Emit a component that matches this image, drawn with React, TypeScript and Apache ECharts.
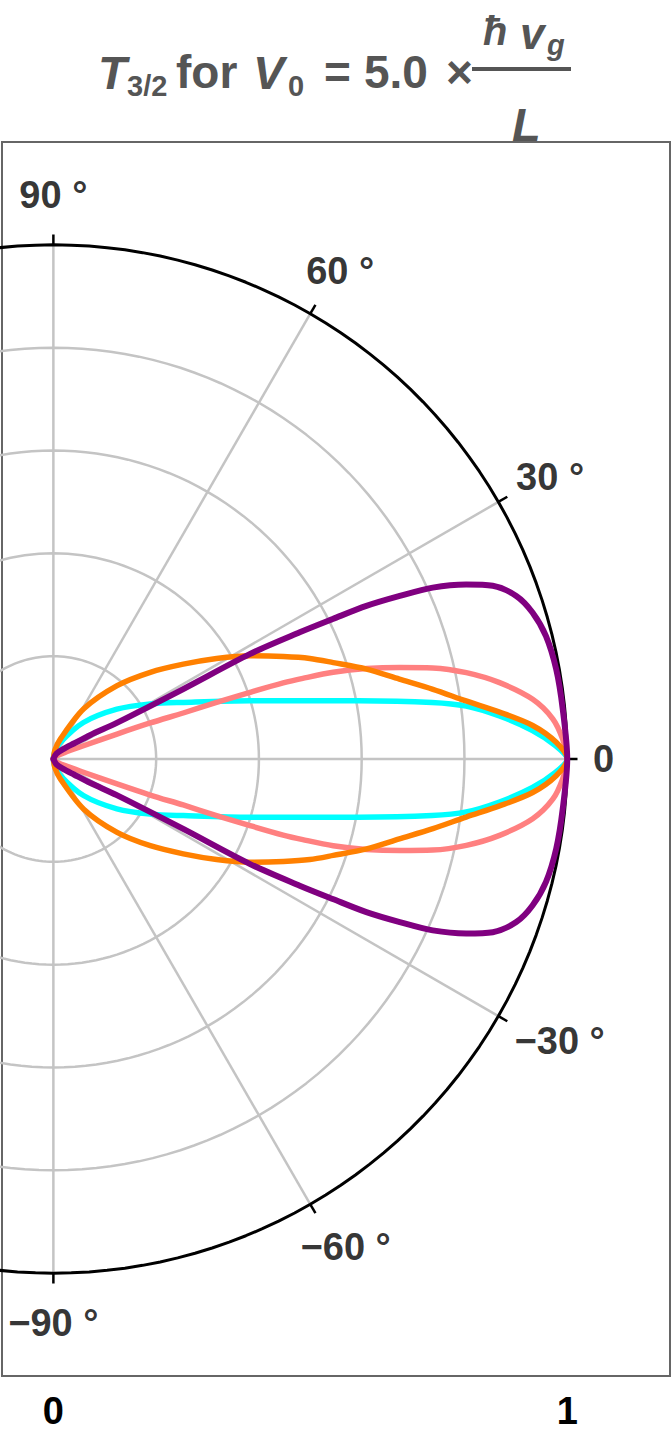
import React, { useEffect, useRef } from "react";
import * as echarts from "echarts";

// ---------- data (angles in degrees, radii in units of the outer circle) ----------
const ORANGE_THETA = [-90, -80, -70.7, -58.8, -49, -41.8, -36.1, -31.6, -27.7, -24, -21.4, -19, -16, -13, -10.4, -8, -6, -4, -1.9, 0, 1.9, 4, 6, 8, 10.4, 13, 16, 19, 21.4, 24, 27.7, 31.6, 36.1, 41.8, 49, 58.8, 70.7, 80, 90];
const ORANGE_R = [0, 0.018, 0.041, 0.114, 0.189, 0.253, 0.313, 0.373, 0.432, 0.49, 0.536, 0.576, 0.634, 0.691, 0.751, 0.811, 0.873, 0.935, 0.979, 1.0, 0.979, 0.935, 0.873, 0.811, 0.751, 0.691, 0.634, 0.576, 0.536, 0.49, 0.432, 0.373, 0.313, 0.253, 0.189, 0.114, 0.041, 0.018, 0];

const CYAN_THETA = [-90, -80, -67, -50.5, -38.1, -29.6, -23.5, -16.5, -13.1, -10.8, -8.5, -7.3, -5.5, -3.4, -1.5, 0, 1.5, 3.4, 5.5, 7.3, 8.5, 10.8, 13.1, 16.5, 23.5, 29.6, 38.1, 50.5, 67, 80, 90];
const CYAN_R = [0, 0.012, 0.035, 0.092, 0.157, 0.217, 0.276, 0.399, 0.5, 0.605, 0.745, 0.81, 0.872, 0.934, 0.978, 1.0, 0.978, 0.934, 0.872, 0.81, 0.745, 0.605, 0.5, 0.399, 0.276, 0.217, 0.157, 0.092, 0.035, 0.012, 0];

const SALMON_THETA = [-90, -45, -30, -23.7, -21.4, -20.4, -19.5, -19.1, -18.7, -18.3, -17.9, -17.2, -16.1, -14.8, -13.5, -11.8, -9.7, -7.1, -4.6, -2.2, 0, 2.2, 4.6, 7.1, 9.7, 11.8, 13.5, 14.8, 16.1, 17.2, 17.9, 18.3, 18.7, 19.1, 19.5, 20.4, 21.4, 23.7, 30, 45, 90];
const SALMON_R = [0, 0.008, 0.025, 0.064, 0.133, 0.201, 0.268, 0.336, 0.404, 0.471, 0.51, 0.57, 0.634, 0.697, 0.759, 0.821, 0.881, 0.94, 0.975, 0.992, 1.0, 0.992, 0.975, 0.94, 0.881, 0.821, 0.759, 0.697, 0.634, 0.57, 0.51, 0.471, 0.404, 0.336, 0.268, 0.201, 0.133, 0.064, 0.025, 0.008, 0];

const PURPLE_THETA = [-90, -60, -45, -37, -33, -29.7, -28.3, -28.1, -27.2, -26.6, -26.05, -25.2, -24.3, -22.9, -21.5, -19.4, -17, -14, -10.1, -5.6, 0, 5.6, 10.1, 14, 17, 19.4, 21.5, 22.9, 24.3, 25.2, 26.05, 26.6, 27.2, 28.1, 28.3, 29.7, 33, 37, 45, 60, 90];
const PURPLE_R = [0, 0.012, 0.027, 0.05, 0.085, 0.142, 0.287, 0.433, 0.539, 0.608, 0.678, 0.745, 0.81, 0.872, 0.919, 0.955, 0.975, 0.988, 0.994, 0.996, 1.0, 0.996, 0.994, 0.988, 0.975, 0.955, 0.919, 0.872, 0.81, 0.745, 0.678, 0.608, 0.539, 0.433, 0.287, 0.142, 0.085, 0.05, 0.027, 0.012, 0];

const GRID_RADII = [0.2, 0.4, 0.6, 0.8];
const OUTER_RADIUS = 1;
const SPOKE_ANGLES = [-90, -60, -30, 0, 30, 60, 90];
const ANGLE_TICKS = [90, 60, 30, 0, -30, -60, -90];
const ANGLE_TICK_LABELS = ["90 °", "60 °", "30 °", "0", "−30 °", "−60 °", "−90 °"];
const X_TICKS = [0, 1];
const X_TICK_LABELS = ["0", "1"];

// ---------- helpers ----------
const FONT = '"Liberation Sans", Arial, Helvetica, sans-serif';
const rad = (d: number) => (d * Math.PI) / 180;
const toXY = (thetas: number[], rs: number[]) =>
  thetas.map((t, i) => [rs[i] * Math.cos(rad(t)), rs[i] * Math.sin(rad(t))]);
const circle = (r: number) => {
  const pts: number[][] = [];
  for (let a = 0; a <= 360; a += 2) pts.push([r * Math.cos(rad(a)), r * Math.sin(rad(a))]);
  return pts;
};

function measure(text: string, size: number) {
  const c = document.createElement("canvas").getContext("2d");
  if (!c) return text.length * size * 0.5;
  c.font = `bold ${size}px ${FONT}`;
  return c.measureText(text).width;
}

export default function App() {
  const ref = useRef<HTMLDivElement>(null);

  useEffect(() => {
    if (!ref.current) return;
    const chart = echarts.init(ref.current, undefined, { renderer: "svg" });

    const gridGray = "#c4c4c4";
    const series: any[] = [];

    GRID_RADII.forEach((r) =>
      series.push({
        type: "line", data: circle(r), symbol: "none", silent: true, clip: true,
        lineStyle: { color: gridGray, width: 2.5 },
      })
    );
    SPOKE_ANGLES.forEach((a) =>
      series.push({
        type: "line", data: toXY([a, a], [0, OUTER_RADIUS]), symbol: "none", silent: true,
        lineStyle: { color: gridGray, width: 2.5 },
      })
    );
    series.push({
      type: "line", data: circle(OUTER_RADIUS), symbol: "none", silent: true, clip: true,
      lineStyle: { color: "#000", width: 3 },
    });
    ANGLE_TICKS.forEach((a) =>
      series.push({
        type: "line", data: toXY([a, a], [OUTER_RADIUS, OUTER_RADIUS * 1.02]), symbol: "none", silent: true,
        lineStyle: { color: "#000", width: 2.5 },
      })
    );

    const curves = [
      { t: CYAN_THETA, r: CYAN_R, c: "#00ffff", w: 5.5 },
      { t: SALMON_THETA, r: SALMON_R, c: "#ff8080", w: 5.5 },
      { t: ORANGE_THETA, r: ORANGE_R, c: "#ff8000", w: 5.5 },
      { t: PURPLE_THETA, r: PURPLE_R, c: "#800080", w: 6 },
    ];
    curves.forEach((cv) =>
      series.push({
        type: "line", data: toXY(cv.t, cv.r), symbol: "none", smooth: 0.3, silent: true, clip: true,
        lineStyle: { color: cv.c, width: cv.w, join: "round", cap: "round" },
      })
    );

    const LABEL_SIZE = 38;
    const boxH = 48;
    series.push({
      type: "scatter",
      symbolSize: 1,
      itemStyle: { color: "rgba(0,0,0,0)" },
      silent: true,
      data: ANGLE_TICKS.map((a, i) => {
        const w = measure(ANGLE_TICK_LABELS[i], LABEL_SIZE);
        return {
          value: [1.05 * Math.cos(rad(a)), 1.05 * Math.sin(rad(a))],
          label: {
            show: true,
            position: "inside",
            formatter: ANGLE_TICK_LABELS[i],
            offset: [(w / 2) * Math.cos(rad(a)), -(boxH / 2) * Math.sin(rad(a))],
          },
        };
      }),
      label: {
        show: true, color: "#000", fontSize: LABEL_SIZE, fontWeight: "bold", fontFamily: FONT,
        align: "center", verticalAlign: "middle",
      },
    });

    const tc = "#555";
    const txt = (text: string, x: number, y: number, size: number, italic = false) => ({
      type: "text", x, y, silent: true,
      style: {
        text, fill: tc, fontSize: size, fontWeight: "bold", fontStyle: italic ? "italic" : "normal",
        fontFamily: FONT, textAlign: "left", textVerticalAlign: "middle",
      },
    });

    chart.setOption({
      animation: false,
      backgroundColor: "#fff",
      grid: { left: 2, right: 2, top: 142, bottom: 64, show: true, borderColor: "#666", borderWidth: 2 },
      xAxis: {
        type: "value", min: -0.1, max: 1.2,
        splitLine: { show: false },
        axisLine: { show: false },
        axisTick: { show: true, inside: true, length: 12, customValues: X_TICKS, lineStyle: { color: "#000", width: 1.2 } },
        axisLabel: {
          show: true, customValues: X_TICKS, margin: 16, color: "#000", fontSize: 38, fontWeight: "bold", fontFamily: FONT,
          formatter: (v: number) => X_TICK_LABELS[X_TICKS.indexOf(v)] ?? String(v),
        },
      },
      yAxis: { type: "value", min: -1.2, max: 1.2, show: false },
      series,
      graphic: [
        txt("T", 98, 72, 47, true),
        txt("3/2", 127, 86, 29),
        txt("for", 176, 72, 46),
        txt("V", 253, 72, 47, true),
        txt("0", 288, 86, 29),
        txt("=", 324, 72, 46),
        txt("5.0", 364, 72, 46),
        txt("×", 446, 72, 46),
        { type: "line", silent: true, shape: { x1: 472, y1: 69, x2: 571, y2: 69 }, style: { stroke: tc, lineWidth: 4 } },
        txt("ħ", 483, 31, 40, true),
        txt("v", 520, 33, 44, true),
        txt("g", 547, 45, 29, true),
        txt("L", 512, 124, 47, true),
      ],
    });

    return () => chart.dispose();
  }, []);

  return <div ref={ref} style={{ position: "absolute", left: 0, top: 0, width: 672, height: 1440 }} />;
}
